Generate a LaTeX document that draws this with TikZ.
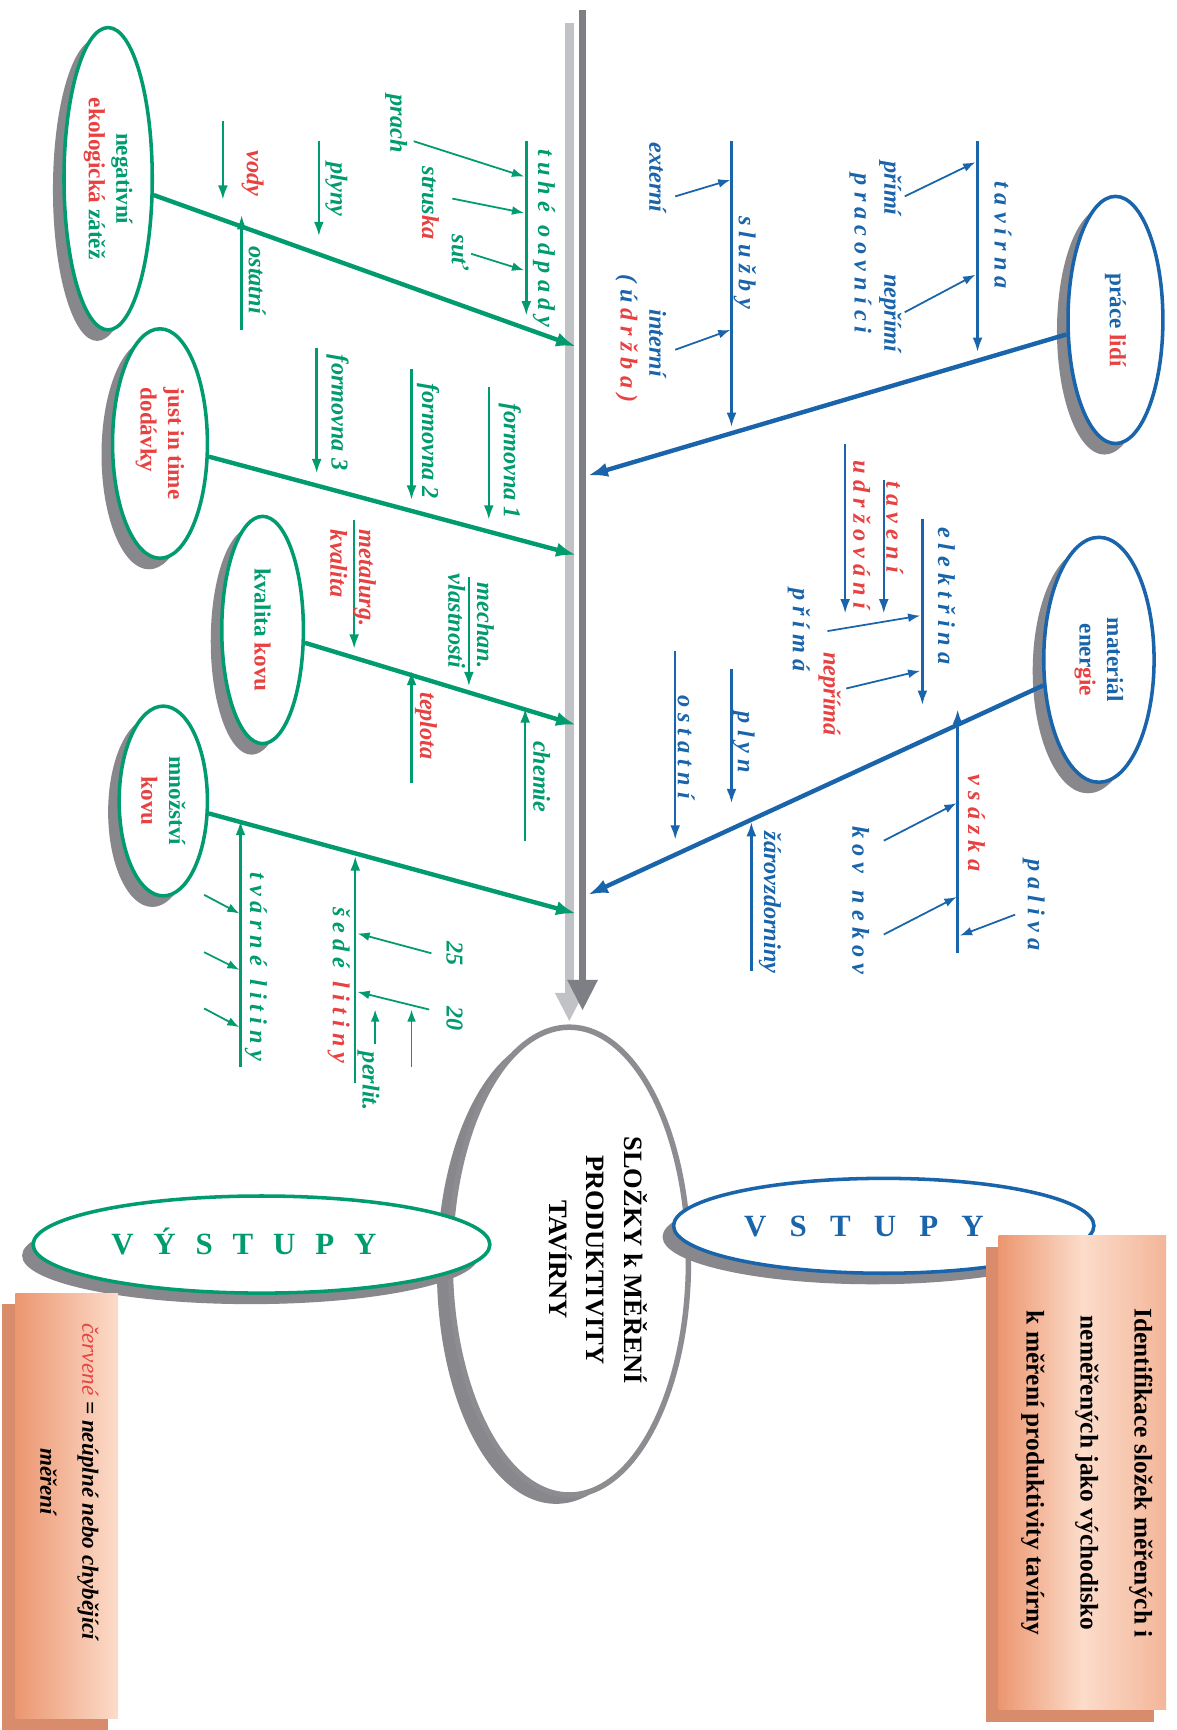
\documentclass[tikz,border=0pt]{standalone}
\usepackage{fontspec}
\setmainfont{Liberation Serif}
\usetikzlibrary{arrows.meta,shapes.geometric,calc}
\definecolor{gr}{RGB}{0,155,110}
\definecolor{bl}{RGB}{25,100,170}
\definecolor{rd}{RGB}{232,65,65}
\definecolor{shg}{RGB}{135,135,140}
\definecolor{spd}{RGB}{125,127,133}
\definecolor{spl}{RGB}{192,194,198}
\definecolor{hg}{RGB}{140,140,145}
\definecolor{boxa}{RGB}{236,150,112}
\definecolor{boxb}{RGB}{252,220,202}
\definecolor{boxc}{RGB}{216,140,108}
\newcommand\rd[1]{\textcolor{rd}{#1}}
\begin{document}
\begin{tikzpicture}[x=1pt,y=-1pt,
  lab/.style={rotate=-90, inner sep=0pt, font=\fontsize{22}{26}\selectfont\bfseries\itshape},
  glab/.style={lab, text=gr},
  blab/.style={lab, text=bl},
  rlab/.style={lab, text=rd},
  bub/.style={ellipse, rotate=-90, inner sep=0pt, line width=3.2pt, fill=white, align=center, font=\fontsize{21}{25}\selectfont\bfseries},
  shad/.style={ellipse, rotate=-90, inner sep=0pt, fill=shg, draw=none},
  bone/.style={line width=4pt, -{Latex[length=18pt,width=13pt]}},
  rib/.style={line width=2.2pt, -{Latex[length=13pt,width=9pt]}},
  twig/.style={line width=1.6pt, -{Latex[length=11pt,width=8pt]}},
]
\fill[white] (0,0) rectangle (1066,1568);
\useasboundingbox (0,0) rectangle (1066,1568);

% ---------- spine ----------
\coordinate (spl1) at (516,21); \coordinate (spl2) at (516,926);
\coordinate (spd1) at (528,9);  \coordinate (spd2) at (528,916);
\draw[line width=8pt, spl, -{Triangle[length=26pt,width=24pt]}] (spl1) -- (spl2);
\draw[line width=6.5pt, spd, -{Triangle[length=28pt,width=26pt]}] (spd1) -- (spd2);

% ---------- bubbles ----------
\node[shad, minimum width=274pt, minimum height=80pt] (E1s) at (88,172) {};
\node[bub, draw=gr, minimum width=274pt, minimum height=80pt] (E1) at (98,162)
  {\textcolor{gr}{negativní}\\\rd{ekologická} \textcolor{gr}{zátěž}};
\node[shad, minimum width=208pt, minimum height=86pt] (E4s) at (135,412) {};
\node[bub, draw=gr, minimum width=208pt, minimum height=86pt, align=left] (E4) at (145,402)
  {\rd{just in time}\\\rd{dodávky}};
\node[shad, minimum width=206pt, minimum height=74pt] (E5s) at (228,581) {};
\node[bub, draw=gr, minimum width=206pt, minimum height=74pt] (E5) at (238,571)
  {\textcolor{gr}{kvalita} \rd{kovu}};
\node[shad, minimum width=172pt, minimum height=80pt] (E6s) at (138,736) {};
\node[bub, draw=gr, minimum width=172pt, minimum height=80pt] (E6) at (148,726)
  {\textcolor{gr}{množství}\\\rd{kovu}};
\node[shad, minimum width=224pt, minimum height=86pt] (E2s) at (1001,300) {};
\node[bub, draw=bl, minimum width=224pt, minimum height=86pt] (E2) at (1011,290)
  {\textcolor{bl}{práce} \rd{lidí}};
\node[shad, minimum width=222pt, minimum height=100pt] (E3s) at (986,608) {};
\node[bub, draw=bl, minimum width=222pt, minimum height=100pt] (E3) at (996,598)
  {\textcolor{bl}{materiál}\\\textcolor{bl}{ener}\rd{gie}};

% ---------- bones ----------
\coordinate (s1) at (522,314);
\coordinate (s4) at (522,503);
\coordinate (s5) at (522,657);
\coordinate (s6) at (522,828);
\coordinate (s2) at (533,431);
\coordinate (s3) at (533,811);
\draw[bone, gr] (E1) -- (s1);
\draw[bone, gr] (E4) -- (s4);
\draw[bone, gr] (E5) -- (s5);
\draw[bone, gr] (E6) -- (s6);
\draw[bone, bl] (E2) -- (s2);
\draw[bone, bl] (E3) -- (s3);

% ---------- green: negativni ekologicka zatez ----------
\coordinate (a1) at (477,128); \coordinate (a2) at (477,286);
\draw[rib, gr] (a1) -- (a2);
\node[glab] (tuhe) at (493,216) {t u h é\hspace{12pt}o d p a d y};
\coordinate (p1) at (375,128); \coordinate (p2) at (475,160);
\draw[twig, gr] (p1) -- (p2);
\node[glab] (prach) at (359,112) {prach};
\coordinate (q1) at (410,180); \coordinate (q2) at (475,193);
\draw[twig, gr] (q1) -- (q2);
\node[glab] (strus) at (390,184) {strus\rd{ka}};
\coordinate (r1) at (427,230); \coordinate (r2) at (475,245);
\draw[twig, gr] (r1) -- (r2);
\node[glab] (sut) at (417,229) {suť};
\coordinate (b1) at (289,128); \coordinate (b2) at (289,214);
\draw[rib, gr] (b1) -- (b2);
\node[glab] (plyny) at (305,172) {plyny};
\coordinate (c1) at (202,110); \coordinate (c2) at (202,181);
\draw[rib, gr] (c1) -- (c2);
\node[rlab] (vody) at (229,157) {vody};
\coordinate (d1) at (219,299); \coordinate (d2) at (219,195);
\draw[rib, gr] (d1) -- (d2);
\node[glab] (ostg) at (233,254) {ostatní};

% ---------- green: just in time ----------
\coordinate (f1a) at (443,351); \coordinate (f1b) at (443,471);
\draw[rib, gr] (f1a) -- (f1b);
\node[glab] (form1) at (462,418) {formovna 1};
\coordinate (f2a) at (373,334); \coordinate (f2b) at (373,453);
\draw[rib, gr] (f2a) -- (f2b);
\node[glab] (form2) at (388,400) {formovna 2};
\coordinate (f3a) at (287,315); \coordinate (f3b) at (287,429);
\draw[rib, gr] (f3a) -- (f3b);
\node[glab] (form3) at (306,374) {formovna 3};

% ---------- green: kvalita kovu ----------
\coordinate (m1) at (425,523); \coordinate (m2) at (425,622);
\draw[rib, gr] (m1) -- (m2);
\node[glab, align=right] (mech) at (427,563) {mechan.\\vlastnosti};
\coordinate (n1) at (321,471); \coordinate (n2) at (321,588);
\draw[rib, gr] (n1) -- (n2);
\node[rlab, align=left] (metal) at (320,524) {metalurg.\\kvalita};
\coordinate (o1) at (373,710); \coordinate (o2) at (373,608);
\draw[rib, gr] (o1) -- (o2);
\node[rlab] (tepl) at (386,658) {teplota};
\coordinate (h1) at (476,762); \coordinate (h2) at (476,642);
\draw[rib, gr] (h1) -- (h2);
\node[glab] (chem) at (491,704) {chemie};

% ---------- green: mnozstvi kovu ----------
\coordinate (tv1) at (218,967); \coordinate (tv2) at (218,744);
\draw[rib, gr] (tv1) -- (tv2);
\node[glab] (tvarne) at (232,876) {t v á r n é\hspace{12pt}l i t i n y};
\coordinate (tw1) at (185,811); \coordinate (tw2) at (217,828);
\coordinate (tw3) at (185,863); \coordinate (tw4) at (217,879);
\coordinate (tw5) at (185,914); \coordinate (tw6) at (217,931);
\draw[twig, gr] (tw1) -- (tw2);
\draw[twig, gr] (tw3) -- (tw4);
\draw[twig, gr] (tw5) -- (tw6);
\coordinate (sd1) at (322,982); \coordinate (sd2) at (322,776);
\draw[rib, gr] (sd1) -- (sd2);
\node[glab] (sede) at (307,893) {š e d é\hspace{12pt}\rd{l i t i n y}};
\coordinate (k1) at (391,864); \coordinate (k2) at (324,846);
\draw[twig, gr] (k1) -- (k2);
\node[glab] (n25) at (412,864) {25};
\coordinate (k3) at (389,915); \coordinate (k4) at (324,899);
\draw[twig, gr] (k3) -- (k4);
\node[glab] (n20) at (412,923) {20};
\coordinate (k5) at (340,946); \coordinate (k6) at (340,915);
\draw[twig, gr] (k5) -- (k6);
\coordinate (k7) at (373,967); \coordinate (k8) at (373,915);
\draw[twig, gr] (k7) -- (k8);
\node[glab] (perl) at (334,980) {perlit.};

% ---------- blue: prace lidi ----------
\coordinate (ta1) at (886,128); \coordinate (ta2) at (886,319);
\draw[rib, bl] (ta1) -- (ta2);
\node[blab] (tavirna) at (909,213) {t a v í r n a};
\coordinate (pr1) at (820,178); \coordinate (pr2) at (884,147);
\draw[twig, bl] (pr1) -- (pr2);
\coordinate (pr3) at (820,283); \coordinate (pr4) at (884,249);
\draw[twig, bl] (pr3) -- (pr4);
\node[blab] (primi) at (807,171) {přímí};
\node[blab] (neprimi) at (807,284) {nepřímí};
\node[blab] (pracov) at (780,230) {p r a c o v n í c i};
\coordinate (sl1) at (663,128); \coordinate (sl2) at (663,387);
\draw[rib, bl] (sl1) -- (sl2);
\node[blab] (sluzby) at (675,238) {s l u ž b y};
\coordinate (ex1) at (612,178); \coordinate (ex2) at (662,163);
\draw[twig, bl] (ex1) -- (ex2);
\coordinate (in1) at (612,317); \coordinate (in2) at (662,299);
\draw[twig, bl] (in1) -- (in2);
\node[blab] (externi) at (596,161) {externí};
\node[blab] (interni) at (596,311) {interní};
\node[blab] (udrzba) at (568,307) {( ú \rd{d r ž b a )}};

% ---------- blue: material energie ----------
\coordinate (el1) at (836,470); \coordinate (el2) at (836,639);
\draw[rib, bl] (el1) -- (el2);
\node[blab] (elektrina) at (858,540) {e l e k t ř i n a};
\coordinate (pm1) at (750,572); \coordinate (pm2) at (834,558);
\draw[twig, bl] (pm1) -- (pm2);
\coordinate (pm3) at (767,624); \coordinate (pm4) at (834,608);
\draw[twig, bl] (pm3) -- (pm4);
\node[blab] (prima) at (724,571) {p ř í m á};
\node[rlab] (neprima) at (752,629) {nepřímá};
\coordinate (tn1) at (801,435); \coordinate (tn2) at (801,556);
\draw[rib, bl] (tn1) -- (tn2);
\node[rlab] (taveni) at (811,478) {t a v e n í};
\coordinate (ud1) at (766,402); \coordinate (ud2) at (766,556);
\draw[rib, bl] (ud1) -- (ud2);
\node[rlab] (udrzovani) at (781,485) {u d r ž o v á n í};
\coordinate (pl1) at (663,606); \coordinate (pl2) at (663,728);
\draw[rib, bl] (pl1) -- (pl2);
\node[blab] (plyn) at (674,673) {p l y n};
\coordinate (os1) at (612,590); \coordinate (os2) at (612,761);
\draw[rib, bl] (os1) -- (os2);
\node[blab] (ostb) at (622,677) {o s t a t n í};
\coordinate (zr1) at (681,880); \coordinate (zr2) at (681,745);
\draw[rib, bl] (zr1) -- (zr2);
\node[blab] (zaro) at (698,818) {žárovzdorniny};
\coordinate (vs1) at (868,864); \coordinate (vs2) at (868,643);
\draw[rib, bl] (vs1) -- (vs2);
\node[rlab] (vsazka) at (885,746) {v s á z k a};
\coordinate (kv1) at (801,762); \coordinate (kv2) at (867,728);
\draw[twig, bl] (kv1) -- (kv2);
\coordinate (kv3) at (801,847); \coordinate (kv4) at (867,813);
\draw[twig, bl] (kv3) -- (kv4);
\node[blab] (kovnekov) at (780,816) {k o v\hspace{16pt}n e k o v};
\coordinate (pa1) at (920,829); \coordinate (pa2) at (870,848);
\draw[twig, bl] (pa1) -- (pa2);
\node[blab] (paliva) at (937,820) {p a l i v a};

% ---------- head ----------
\node[ellipse, inner sep=0pt, fill=shg, minimum width=216pt, minimum height=424pt] (Hs) at (504,1151) {};
\node[ellipse, inner sep=0pt, draw=hg, line width=5pt, fill=white, minimum width=216pt, minimum height=424pt] (H) at (516,1143) {};
\node[rotate=-90, align=center, inner sep=0pt, font=\fontsize{24}{34}\selectfont\bfseries] (Ht) at (542,1142)
  {SLOŽKY k MĚŘENÍ\\PRODUKTIVITY\\TAVÍRNY};

% ---------- inputs / outputs ----------
\node[ellipse, inner sep=0pt, fill=shg, minimum width=381pt, minimum height=86pt] (VSs) at (791,1121) {};
\node[ellipse, inner sep=0pt, draw=bl, line width=3.2pt, fill=white, minimum width=381pt, minimum height=86pt] (VS) at (801,1111) {};
\node[inner sep=0pt, text=bl, font=\fontsize{28}{30}\selectfont\bfseries] (VSt) at (783,1112)
  {V\hspace{21pt}S\hspace{21pt}T\hspace{21pt}U\hspace{21pt}P\hspace{21pt}Y};
\node[ellipse, inner sep=0pt, fill=shg, minimum width=414pt, minimum height=88pt] (VYs) at (227,1138) {};
\node[ellipse, inner sep=0pt, draw=gr, line width=3.2pt, fill=white, minimum width=414pt, minimum height=88pt] (VY) at (237,1128) {};
\node[inner sep=0pt, text=gr, font=\fontsize{28}{30}\selectfont\bfseries] (VYt) at (221,1125)
  {V\hspace{18pt}Ý\hspace{18pt}S\hspace{18pt}T\hspace{18pt}U\hspace{18pt}P\hspace{18pt}Y};

% ---------- boxes ----------
\fill[boxc] (894,1130) rectangle (1046,1561);
\shade[left color=boxa, right color=boxa!55!boxb, middle color=boxb] (905,1120) rectangle (1057,1549);
\node[rotate=-90, align=center, inner sep=0pt, font=\fontsize{23}{49}\selectfont\bfseries] (Bt) at (985,1335)
  {Identifikace složek měřených i\\neměřených jako východisko\\k měření produktivity tavírny};
\fill[boxc] (2,1182) rectangle (98,1568);
\shade[left color=boxa, right color=boxb] (14,1172) rectangle (107,1558);
\node[rotate=-90, align=center, inner sep=0pt, font=\fontsize{21}{38}\selectfont\itshape] (Lt) at (63,1343)
  {\rd{červené} \textbf{= neúplné nebo chybějící}\\\textbf{měření}};
\end{tikzpicture}
\end{document}
